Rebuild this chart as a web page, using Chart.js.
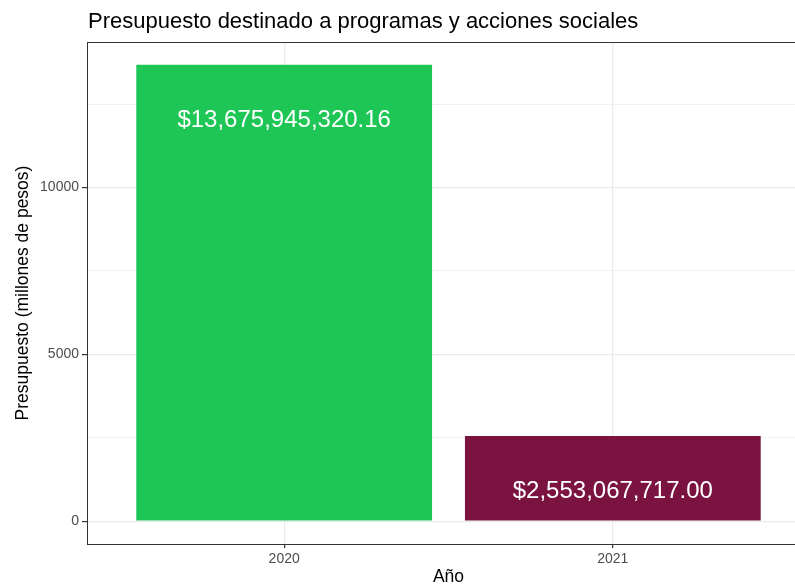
<!DOCTYPE html>
<html>
<head>
<meta charset="utf-8">
<script src="https://cdn.jsdelivr.net/npm/chart.js@4"></script>
<style>
  html, body { margin: 0; padding: 0; background: #fff; overflow: hidden; }
  #wrap { width: 795px; height: 586px; overflow: hidden; }
</style>
</head>
<body>
<div id="wrap"><canvas id="budgetChart" width="830" height="586"></canvas></div>
<script>
// data
const years = ["2020", "2021"];
const budgetPesos = [13675945320.16, 2553067717.00];
const barColors = ["#1dc655", "#7a1340"];
const yMajorTicks = [0, 5000, 10000];
const yMinorTicks = [2500, 7500, 12500];
const labelDrop = 1650; // millions, how far the value label sits under the bar top

const budgetMillions = budgetPesos.map(v => v / 1e6);
const maxVal = Math.max(...budgetMillions);
const pad = maxVal * 0.05;

const fontFamily = "'Liberation Sans', Arial, Helvetica, sans-serif";

// title + panel border + labels on bars
const extras = {
    id: "extras",
    afterDatasetsDraw(chart) {
        const c = chart.ctx;
        const area = chart.chartArea;
        const yScale = chart.scales.y;
        const meta = chart.getDatasetMeta(0);

        c.save();
        c.fillStyle = "#ffffff";
        c.font = "24px " + fontFamily;
        c.textAlign = "center";
        c.textBaseline = "middle";
        meta.data.forEach((bar, i) => {
            const txt = "$" + budgetPesos[i].toLocaleString("en-US", { minimumFractionDigits: 2, maximumFractionDigits: 2 });
            c.fillText(txt, bar.x, yScale.getPixelForValue(budgetMillions[i] - labelDrop));
        });

        c.strokeStyle = "#333333";
        c.lineWidth = 1;
        c.strokeRect(area.left + 0.5, area.top + 0.5, area.right - area.left, area.bottom - area.top);

        c.fillStyle = "#000000";
        c.font = "22px " + fontFamily;
        c.textAlign = "left";
        c.textBaseline = "alphabetic";
        c.fillText("Presupuesto destinado a programas y acciones sociales", area.left + 1, 28);
        c.restore();
    }
};

const ctx = document.getElementById("budgetChart").getContext("2d");

new Chart(ctx, {
    type: "bar",
    data: {
        datasets: [{
            data: budgetMillions.map((v, i) => ({ x: i + 1, y: v })),
            backgroundColor: barColors,
            borderWidth: 0,
            barPercentage: 0.9,
            categoryPercentage: 1.0
        }]
    },
    options: {
        responsive: false,
        animation: false,
        layout: { padding: { top: 42, right: 20, left: 0, bottom: 0 } },
        plugins: {
            legend: { display: false },
            tooltip: { enabled: false },
            title: { display: false }
        },
        scales: {
            x: {
                type: "linear",
                min: 0.4,
                max: 2.6,
                offset: false,
                afterBuildTicks: scale => {
                    scale.ticks = years.map((y, i) => ({ value: i + 1 }));
                },
                afterFit: scale => { scale.height = 42; },
                ticks: {
                    autoSkip: false,
                    color: "#4d4d4d",
                    font: { family: fontFamily, size: 14 },
                    padding: 3,
                    callback: v => years[v - 1]
                },
                grid: {
                    offset: false,
                    color: "#ebebeb",
                    lineWidth: 1.2,
                    tickColor: "#333333",
                    tickLength: 4
                },
                border: { display: false },
                title: {
                    display: true,
                    text: "Año",
                    color: "#000000",
                    font: { family: fontFamily, size: 17.5, lineHeight: 1 },
                    padding: { top: 0, bottom: 0 }
                }
            },
            y: {
                min: -pad,
                max: maxVal + pad,
                afterBuildTicks: scale => {
                    scale.ticks = yMajorTicks.concat(yMinorTicks)
                        .sort((a, b) => a - b)
                        .map(v => ({ value: v }));
                },
                afterFit: scale => { scale.width = 87; },
                ticks: {
                    autoSkip: false,
                    color: "#4d4d4d",
                    font: { family: fontFamily, size: 14 },
                    padding: 3,
                    callback: v => yMajorTicks.includes(v) ? String(v) : ""
                },
                grid: {
                    color: "#ebebeb",
                    lineWidth: c => yMajorTicks.includes(c.tick.value) ? 1.2 : 0.7,
                    tickColor: c => yMajorTicks.includes(c.tick.value) ? "#333333" : "rgba(0,0,0,0)",
                    tickLength: 5
                },
                border: { display: false },
                title: {
                    display: true,
                    text: "Presupuesto (millones de pesos)",
                    color: "#000000",
                    font: { family: fontFamily, size: 17.5, lineHeight: 1 },
                    padding: { top: 14, bottom: 0 }
                }
            }
        }
    },
    plugins: [extras]
});
</script>
</body>
</html>
